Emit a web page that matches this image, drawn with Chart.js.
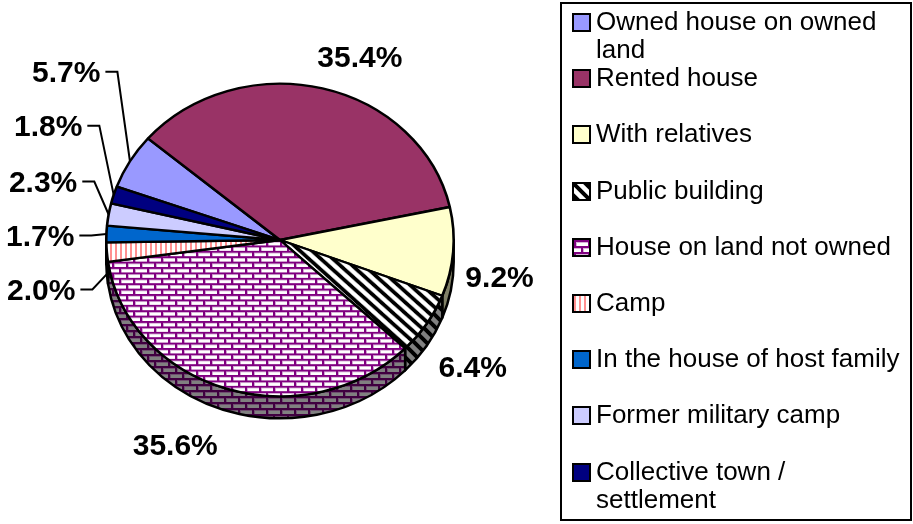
<!DOCTYPE html>
<html><head><meta charset="utf-8">
<script src="https://cdn.jsdelivr.net/npm/chart.js@4.4.1/dist/chart.umd.min.js"></script>
<style>
html,body{margin:0;padding:0;background:#fff;}
#wrap{position:relative;width:913px;height:524px;overflow:hidden;}
#c{position:absolute;left:0;top:0;}
#legend{position:absolute;left:560px;top:2px;width:352px;height:519px;box-sizing:border-box;border:2px solid #000;padding-top:3px;font-family:"Liberation Sans",Arial,sans-serif;font-size:26px;line-height:28.1px;color:#000;}
.item{position:relative;height:56.2px;}
.sw{position:absolute;left:10px;top:6px;width:19px;height:19px;box-sizing:border-box;border:2px solid #000;}
.tx{position:absolute;left:34px;top:0;width:314px;}
</style></head>
<body><div id="wrap"><canvas id="c" width="913" height="524"></canvas><div id="legend"></div></div>
<script>
// ---- data ----
const categories = ["Owned house on owned land","Rented house","With relatives","Public building","House on land not owned","Camp","In the house of host family","Former military camp","Collective town / settlement"];
const shares = [5.7, 35.4, 9.2, 6.4, 35.6, 2.0, 1.7, 2.3, 1.8];
const shareLabels = ["5.7%","35.4%","9.2%","6.4%","35.6%","2.0%","1.7%","2.3%","1.8%"];

// ---- styles ----
const fillKinds = ["#9999FF","#993366","#FFFFCC","diag","bricks","vstripe","#0066CC","#CCCCFF","#000080"];
// label placement relative to pie centre, in radii (layout only)
const labelSpots = [
  {dx:-1.034, dy:-0.908, align:'right', leader:true},
  {dx:0.460, dy:-0.994, align:'center'},
  {dx:1.264, dy:0.270, align:'center'},
  {dx:1.109, dy:0.787, align:'center'},
  {dx:-0.603, dy:1.236, align:'center'},
  {dx:-1.178, dy:0.345, align:'right', leader:true},
  {dx:-1.184, dy:0.034, align:'right', leader:true},
  {dx:-1.167, dy:-0.276, align:'right', leader:true},
  {dx:-1.138, dy:-0.598, align:'right', leader:true}
];

function darken(hex){
  const n=parseInt(hex.slice(1),16);
  const r=(n>>16)&255,g=(n>>8)&255,b=n&255;
  return 'rgb('+Math.round(r/2)+','+Math.round(g/2)+','+Math.round(b/2)+')';
}
function makeTile(kind, dark){
  const c=document.createElement('canvas');
  const g=c.getContext('2d');
  const bg = dark ? '#808080' : '#ffffff';
  if(kind==='bricks'){
    c.width=14; c.height=12;
    g.fillStyle=bg; g.fillRect(0,0,14,12);
    const line = dark?'#400040':'#800080', soft = dark?'#705070':'#d8b0d8';
    g.fillStyle=soft; g.fillRect(0,2,14,1); g.fillRect(0,8,14,1); g.fillRect(2,2,1,4); g.fillRect(9,8,1,4);
    g.fillStyle=line; g.fillRect(0,0,14,2); g.fillRect(0,6,14,2); g.fillRect(0,2,2,4); g.fillRect(7,8,2,4);
  } else if(kind==='diag'){
    c.width=12; c.height=12;
    g.fillStyle=bg; g.fillRect(0,0,12,12);
    g.strokeStyle='#000'; g.lineWidth=4; g.beginPath();
    for(let k=-1;k<=1;k++){ g.moveTo(k*12-2,-2); g.lineTo(k*12+14,14); }
    g.stroke();
  } else if(kind==='vstripe'){
    c.width=5; c.height=4;
    g.fillStyle=bg; g.fillRect(0,0,5,4);
    g.fillStyle= dark?'#804848':'#FF9090'; g.fillRect(0,0,2,4);
  }
  return c;
}

const canvas=document.getElementById('c');
const ctx=canvas.getContext('2d');
const topFills=[], sideFills=[], swatchBg=[];
fillKinds.forEach(k=>{
  if(k[0]==='#'){ topFills.push(k); sideFills.push(darken(k)); swatchBg.push('background:'+k); }
  else {
    const t=makeTile(k,false), d=makeTile(k,true);
    topFills.push(ctx.createPattern(t,'repeat'));
    sideFills.push(ctx.createPattern(d,'repeat'));
    swatchBg.push('background-image:url('+t.toDataURL()+')');
  }
});

// legend
const lg=document.getElementById('legend');
categories.forEach((c,i)=>{
  const it=document.createElement('div'); it.className='item';
  it.innerHTML='<div class="sw" style="'+swatchBg[i]+'"></div><div class="tx"></div>';
  it.querySelector('.tx').textContent=c;
  lg.appendChild(it);
});

const pie3d={
  id:'pie3d',
  beforeDatasetsDraw(chart,args,opts){
    const c=chart.ctx, meta=chart.getDatasetMeta(0);
    const a0=meta.data[0]; const cx=a0.x, cy=a0.y, R=a0.outerRadius;
    const ky=opts.tilt, depth=opts.depth;
    c.save();
    c.lineWidth=2.5; c.strokeStyle='#000'; c.lineJoin='round';
    meta.data.forEach((arc,i)=>{
      for(let k=-1;k<=1;k++){
        const lo=Math.max(arc.startAngle,k*2*Math.PI), hi=Math.min(arc.endAngle,k*2*Math.PI+Math.PI);
        if(hi<=lo) continue;
        c.beginPath();
        c.ellipse(cx,cy,R,R*ky,0,lo,hi,false);
        c.ellipse(cx,cy+depth,R,R*ky,0,hi,lo,true);
        c.closePath();
        c.fillStyle=sideFills[i]; c.fill(); c.stroke();
      }
    });
    c.restore();
    c.save();
    c.translate(cx,cy); c.scale(1,ky); c.translate(-cx,-cy);
  },
  afterDatasetsDraw(chart,args,opts){
    const c=chart.ctx; c.restore();
    const meta=chart.getDatasetMeta(0);
    const a0=meta.data[0]; const cx=a0.x, cy=a0.y, R=a0.outerRadius;
    const ky=opts.tilt, depth=opts.depth;
    c.save();
    c.font='bold 30px "Liberation Sans", Arial, sans-serif';
    c.fillStyle='#000'; c.strokeStyle='#000'; c.lineWidth=2;
    c.textBaseline='alphabetic';
    meta.data.forEach((arc,i)=>{
      const s=labelSpots[i];
      const x=cx+s.dx*R, y=cy+s.dy*R;
      c.textAlign=s.align;
      c.fillText(shareLabels[i],x,y);
      if(s.leader){
        const m=(arc.startAngle+arc.endAngle)/2;
        let ex=cx+R*Math.cos(m), ey=cy+R*ky*Math.sin(m);
        if(Math.sin(m)>0) ey+=depth;
        const ly=y-10.5;
        c.beginPath(); c.moveTo(x+5,ly); c.lineTo(x+17,ly); c.lineTo(ex,ey); c.stroke();
      }
    });
    c.restore();
  }
};

new Chart(ctx,{
  type:'pie',
  data:{labels:categories,datasets:[{data:shares,backgroundColor:topFills,borderColor:'#000',borderWidth:2.6,clip:false}]},
  options:{
    responsive:false, animation:false, events:[], rotation:-70,
    layout:{padding:{left:105,right:458,top:65,bottom:109}},
    plugins:{legend:{display:false},tooltip:{enabled:false},pie3d:{tilt:0.9,depth:22}}
  },
  plugins:[pie3d]
});
</script>
</body></html>
